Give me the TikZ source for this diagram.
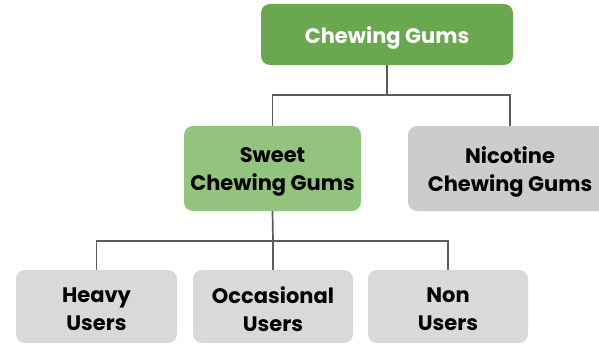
\documentclass[tikz,border=0pt]{standalone}
\usepackage{fontspec}
\setmainfont{Poppins}
\begin{document}
\begin{tikzpicture}[x=1pt,y=-1pt,
  box/.style={rounded corners=9pt, draw=none, inner sep=0pt},
  lbl/.style={align=center, inner sep=0pt,
    font=\fontsize{21}{28}\selectfont\bfseries},
  link/.style={draw=black!64, line width=1.7pt},
]
\definecolor{gumdark}{HTML}{6AA84F}
\definecolor{gumlight}{HTML}{93C47D}
\definecolor{greymid}{HTML}{CCCCCC}
\definecolor{greylight}{HTML}{D9D9D9}
\useasboundingbox (0,0) rectangle (599,345);
\clip (0,0) rectangle (599,345);

% boxes
\node[box, fill=gumdark, minimum width=252pt, minimum height=61pt] (top) at (387,34.5) {};
\node[box, fill=gumlight, minimum width=177pt, minimum height=85pt] (sweet) at (272.5,168.5) {};
\node[box, fill=greymid, minimum width=204pt, minimum height=85pt] (nic) at (510,168.5) {};
\node[box, fill=greylight, minimum width=161pt, minimum height=73pt] (heavy) at (96.5,306.5) {};
\node[box, fill=greylight, minimum width=160pt, minimum height=73pt] (occ) at (273,306.5) {};
\node[box, fill=greylight, minimum width=160pt, minimum height=73pt] (non) at (448,306.5) {};

% box texts, set a little below the geometric centre
\node[lbl, text=white] (top-t) at ([yshift=-3.5pt]top.center) {Chewing Gums};
\node[lbl] (sweet-t) at ([yshift=-3pt]sweet.center) {Sweet\\Chewing Gums};
\node[lbl] (nic-t) at ([yshift=-3pt]nic.center) {Nicotine\\Chewing Gums};
\node[lbl] (heavy-t) at ([yshift=-3pt]heavy.center) {Heavy\\Users};
\node[lbl] (occ-t) at ([yshift=-3pt]occ.center) {Occasional\\Users};
\node[lbl] (non-t) at ([yshift=-3pt]non.center) {Non\\Users};

% branching points
\coordinate (busA) at (387,95);
\coordinate (busB) at (273,241);

% connectors
\draw[link] (top.south) -- (busA);
\draw[link] (busA) -| (sweet.north);
\draw[link] (busA) -| (nic.north);
\draw[link] (sweet.south) -- (busB);
\draw[link] (busB) -| (heavy.north);
\draw[link] (busB) -- (occ.north);
\draw[link] (busB) -| (non.north);
\end{tikzpicture}
\end{document}
